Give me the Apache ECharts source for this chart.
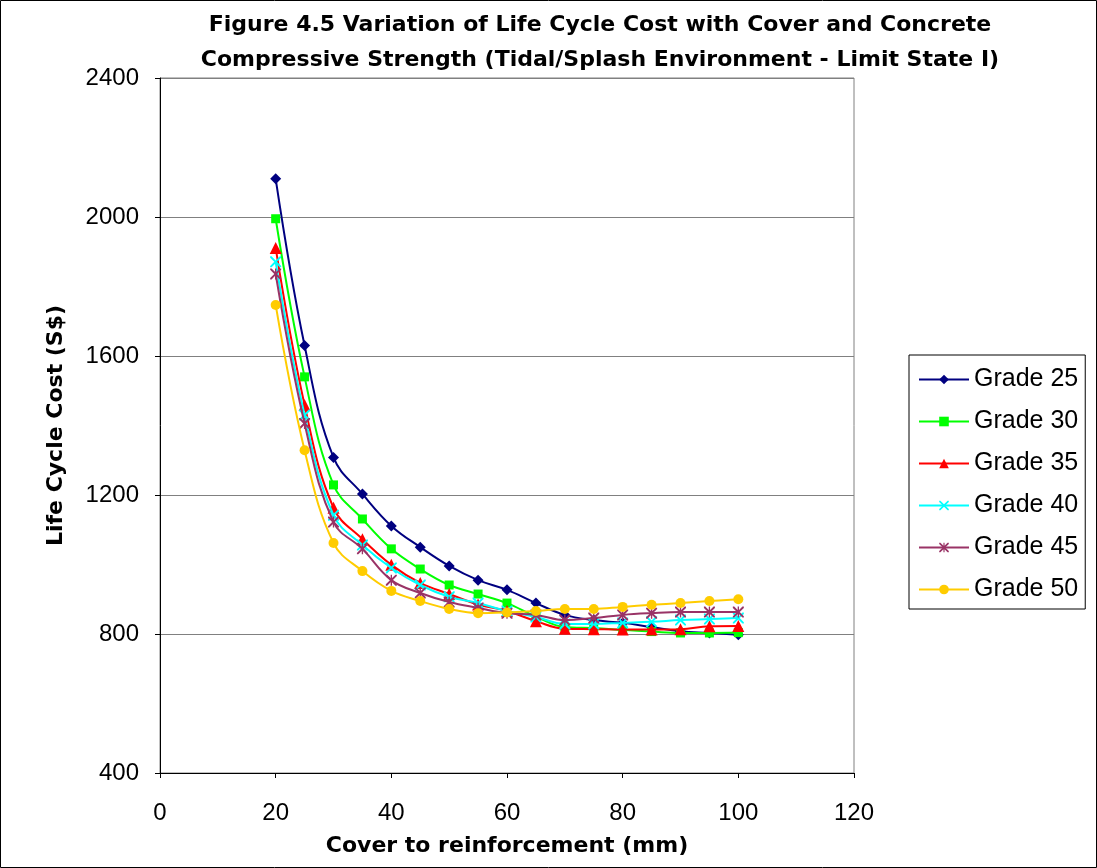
<!DOCTYPE html>
<html><head><meta charset="utf-8">
<script src="https://cdn.jsdelivr.net/npm/echarts@6/dist/echarts.min.js"></script>
<style>html,body{margin:0;padding:0;background:#fff}#c{width:1097px;height:868px}</style>
</head><body><div id="c"></div>
<script>
const covers = [20, 25, 30, 35, 40, 45, 50, 55, 60, 65, 70, 75, 80, 85, 90, 95, 100];
const seriesNames = ['Grade 25', 'Grade 30', 'Grade 35', 'Grade 40', 'Grade 45', 'Grade 50'];
const grade25 = [2110, 1630, 1308, 1203, 1111, 1050, 996, 955, 927, 889, 855, 840, 832, 820, 808, 803, 798];
const grade30 = [1995, 1540, 1229, 1131, 1045, 987, 941, 915, 889, 850, 820, 817, 812, 807, 803, 803, 804];
const grade35 = [1911, 1459, 1163, 1073, 999, 947, 915, 885, 866, 837, 815, 814, 813, 813, 814, 822, 823];
const grade40 = [1871, 1430, 1142, 1056, 990, 941, 907, 889, 866, 849, 829, 829, 832, 835, 840, 843, 846];
const grade45 = [1836, 1406, 1122, 1045, 955, 918, 892, 875, 860, 855, 840, 846, 855, 860, 863, 863, 863];
const grade50 = [1747, 1329, 1062, 981, 924, 895, 872, 860, 862, 866, 872, 872, 878, 884, 889, 895, 900];
const yTicks = {min: 400, max: 2400, interval: 400};
const xTicks = {min: 0, max: 120, interval: 20};

const values = [grade25, grade30, grade35, grade40, grade45, grade50];
const colors = ['#000080', '#00FF00', '#FF0000', '#00FFFF', '#993366', '#FFCC00'];
const X = 'path://M0,0 L2.5,0 L10,7.5 L17.5,0 L20,0 L20,2.5 L12.5,10 L20,17.5 L20,20 L17.5,20 L10,12.5 L2.5,20 L0,20 L0,17.5 L7.5,10 L0,2.5 Z';
const STAR = X + ' M8.8,0 L11.2,0 L11.2,20 L8.8,20 Z';
const symbols = ['diamond', 'rect', 'triangle', X, STAR, 'circle'];
const sizes = [11, 9, 12, 11, 11, 10];

const chart = echarts.init(document.getElementById('c'), null, {renderer: 'canvas'});
const font = 'Arial, "Liberation Sans", sans-serif';
const boldFont = '"DejaVu Sans", sans-serif';
chart.setOption({
  animation: false,
  backgroundColor: '#fff',
  textStyle: {fontFamily: font},
  title: {
    text: 'Figure 4.5 Variation of Life Cycle Cost with Cover and Concrete\nCompressive Strength (Tidal/Splash Environment - Limit State I)',
    left: 595, top: 3, textAlign: 'center',
    textStyle: {fontFamily: boldFont, fontSize: 22, fontWeight: 'bold', color: '#000', lineHeight: 35}
  },
  graphic: [{type: 'rect', shape: {x: 0.5, y: 0.5, width: 1096, height: 867}, style: {fill: 'none', stroke: '#000', lineWidth: 1}, silent: true}],
  legend: {
    orient: 'vertical', left: 909, top: 355,
    borderColor: '#000', borderWidth: 1, padding: [12, 7, 7, 9],
    itemWidth: 50, itemHeight: 12, itemGap: 17,
    textStyle: {fontFamily: font, fontSize: 25, color: '#000', lineHeight: 25},
    data: seriesNames
  },
  grid: {left: 160, right: 243, top: 78, bottom: 95, show: true, borderColor: '#808080', borderWidth: 1, containLabel: false},
  xAxis: {
    type: 'value', min: xTicks.min, max: xTicks.max, interval: xTicks.interval,
    name: 'Cover to reinforcement (mm)', nameLocation: 'middle', nameGap: 62,
    nameTextStyle: {fontFamily: boldFont, fontSize: 22, fontWeight: 'bold', color: '#000'},
    axisLine: {show: true, lineStyle: {color: '#000', width: 1}},
    axisTick: {show: true, length: 5, lineStyle: {color: '#000'}},
    axisLabel: {fontFamily: font, fontSize: 24, color: '#000', margin: 28, formatter: v => String(v)},
    splitLine: {show: false}
  },
  yAxis: {
    type: 'value', min: yTicks.min, max: yTicks.max, interval: yTicks.interval,
    name: 'Life Cycle Cost (S$)', nameLocation: 'middle', nameGap: 93,
    nameTextStyle: {fontFamily: boldFont, fontSize: 22, fontWeight: 'bold', color: '#000'},
    axisLine: {show: true, lineStyle: {color: '#000', width: 1}},
    axisTick: {show: true, length: 5, lineStyle: {color: '#000'}},
    axisLabel: {fontFamily: font, fontSize: 24, color: '#000', margin: 21, formatter: v => String(v)},
    splitLine: {show: true, lineStyle: {color: '#808080', width: 1}}
  },
  series: seriesNames.map((n, i) => ({
    name: n, type: 'line', smooth: 0.4,
    data: covers.map((c, j) => [c, values[i][j]]),
    symbol: symbols[i], symbolSize: sizes[i], showAllSymbol: true,
    lineStyle: {color: colors[i], width: 2},
    itemStyle: {color: colors[i], borderWidth: 0},
    z: 2 + i
  }))
});
</script></body></html>
